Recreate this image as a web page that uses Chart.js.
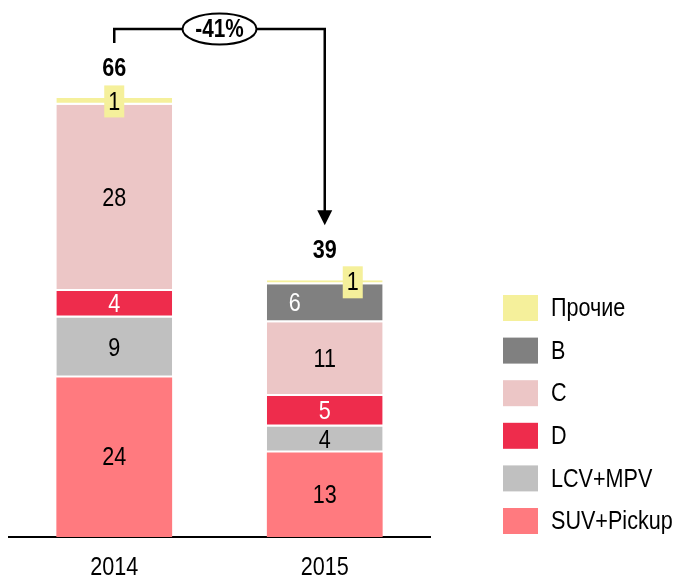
<!DOCTYPE html>
<html>
<head>
<meta charset="utf-8">
<script src="https://cdn.jsdelivr.net/npm/chart.js@4"></script>
<style>
	html, body { margin: 0; padding: 0; background: #fff; }
</style>
</head>
<body>
<canvas id="barChart" width="677" height="580"></canvas>
<script>
// data
const years = ["2014", "2015"];
const segNames = ["SUV+Pickup", "LCV+MPV", "D", "C", "B", "Прочие"];
const suvPickup = [24, 12.7];
const lcvMpv = [9, 3.9];
const segD = [4, 4.6];
const segC = [28, 11.1];
const segB = [0, 5.7];
const other = [1, 0.6];
const segValues = [suvPickup, lcvMpv, segD, segC, segB, other];

const segColors = ["#ff7a7f", "#c0c0c0", "#ee2c4c", "#ecc6c6", "#808080", "#f5f09b"];
const labelColors = ["#000", "#000", "#fff", "#000", "#fff", "#000"];
const FONT = "'Liberation Sans Narrow', 'Arial Narrow', 'Liberation Sans', Arial, sans-serif";
const NARROW = 0.83; // no narrow face installed, squeeze the regular one

const ctx = document.getElementById("barChart").getContext("2d");

const stackTotal = (j) => segValues.reduce((s, arr) => s + arr[j], 0);

// draw condensed text
function narrowText(c, txt, x, y, align) {
	c.save();
	c.translate(x, y);
	c.scale(NARROW, 1);
	c.textAlign = align || "center";
	c.fillText(txt, 0, 0);
	c.restore();
}

// value labels inside the segments
const segLabels = {
	id: "segLabels",
	afterDatasetsDraw(chart) {
		const c = chart.ctx;
		c.save();
		c.font = "26px " + FONT;
		c.textBaseline = "middle";
		chart.data.datasets.forEach((ds, i) => {
			chart.getDatasetMeta(i).data.forEach((bar, j) => {
				const v = ds.data[j];
				if (!v) return;
				let x = bar.x;
				const y = (bar.y + bar.base) / 2;
				if (j === 1 && i === 4) x -= 30; // B label sits left
				if (j === 1 && i === 5) x += 28; // small "other" label to the right
				if (i === 5) {
					c.fillStyle = segColors[5];
					c.fillRect(x - 10, y - 16, 20, 32);
				}
				c.fillStyle = labelColors[i];
				narrowText(c, String(Math.round(v)), x, y + 1);
			});
		});
		c.restore();
	},
};

// year labels under the axis
const yearTicks = {
	id: "yearTicks",
	afterDraw(chart) {
		const c = chart.ctx;
		const xScale = chart.scales.x;
		c.save();
		c.font = "26px " + FONT;
		c.textBaseline = "middle";
		c.fillStyle = "#000";
		xScale.getLabels().forEach((lab, k) => {
			narrowText(c, lab, xScale.getPixelForTick(k), xScale.bottom + 31);
		});
		c.restore();
	},
};

// totals above bars + change arrow
const totalsArrow = {
	id: "totalsArrow",
	afterDraw(chart) {
		const c = chart.ctx;
		const metas = chart.data.datasets.map((d, i) => chart.getDatasetMeta(i));
		const tops = years.map((y, j) => Math.min(...metas.map((m) => m.data[j].y)));
		const xs = metas[0].data.map((b) => b.x);
		const totals = years.map((y, j) => Math.round(stackTotal(j)));
		const labelY = tops.map((t) => t - 29);

		c.save();
		c.fillStyle = "#000";
		c.font = "bold 26px " + FONT;
		c.textBaseline = "middle";
		totals.forEach((t, j) => narrowText(c, String(t), xs[j], labelY[j]));

		// bracket arrow
		const lineY = chart.chartArea.top + 24;
		const tipY = labelY[1] - 26;
		c.strokeStyle = "#000";
		c.lineWidth = 2.5;
		c.beginPath();
		c.moveTo(xs[0], labelY[0] - 26);
		c.lineTo(xs[0], lineY);
		c.lineTo(xs[1], lineY);
		c.lineTo(xs[1], tipY - 14);
		c.stroke();
		c.beginPath();
		c.moveTo(xs[1] - 7.5, tipY - 15);
		c.lineTo(xs[1] + 7.5, tipY - 15);
		c.lineTo(xs[1], tipY);
		c.closePath();
		c.fill();

		// ellipse with percentage
		const mx = (xs[0] + xs[1]) / 2;
		c.beginPath();
		c.ellipse(mx, lineY, 37, 15.5, 0, 0, Math.PI * 2);
		c.fillStyle = "#fff";
		c.fill();
		c.lineWidth = 2;
		c.stroke();
		const change = Math.round((totals[1] - totals[0]) / totals[0] * 100);
		c.fillStyle = "#000";
		c.font = "bold 25px " + FONT;
		narrowText(c, change + "%", mx, lineY + 1);
		c.restore();
	},
};

// legend on the right, top item = last dataset
const sideLegend = {
	id: "sideLegend",
	afterDraw(chart) {
		const c = chart.ctx;
		c.save();
		c.font = "26px " + FONT;
		c.textBaseline = "middle";
		const items = chart.data.datasets.slice().reverse();
		items.forEach((ds, k) => {
			const y = 295 + k * 42.6;
			c.fillStyle = ds.backgroundColor;
			c.fillRect(503, y, 35, 26);
			c.fillStyle = "#000";
			narrowText(c, ds.label, 551, y + 14, "left");
		});
		c.restore();
	},
};

const barChart = new Chart(ctx, {
	type: "bar",
	data: {
		labels: years,
		datasets: segNames.map((name, i) => ({
			label: name,
			data: segValues[i],
			backgroundColor: segColors[i],
			borderColor: "#fff",
			borderWidth: i === 0 ? 0 : { top: 0, left: 0, right: 0, bottom: 2 },
			borderSkipped: false,
			barPercentage: 0.55,
			categoryPercentage: 1,
		})),
	},
	options: {
		responsive: false,
		animation: false,
		devicePixelRatio: 1,
		layout: { padding: { left: 9, right: 247, top: 5, bottom: 43 } },
		plugins: {
			legend: { display: false },
			tooltip: { enabled: false },
		},
		scales: {
			x: {
				stacked: true,
				grid: { display: false, drawTicks: false },
				border: { color: "#000", width: 2 },
				ticks: { display: false },
			},
			y: {
				stacked: true,
				display: false,
				min: 0,
				max: 80,
			},
		},
	},
	plugins: [segLabels, yearTicks, totalsArrow, sideLegend],
});
</script>
</body>
</html>
